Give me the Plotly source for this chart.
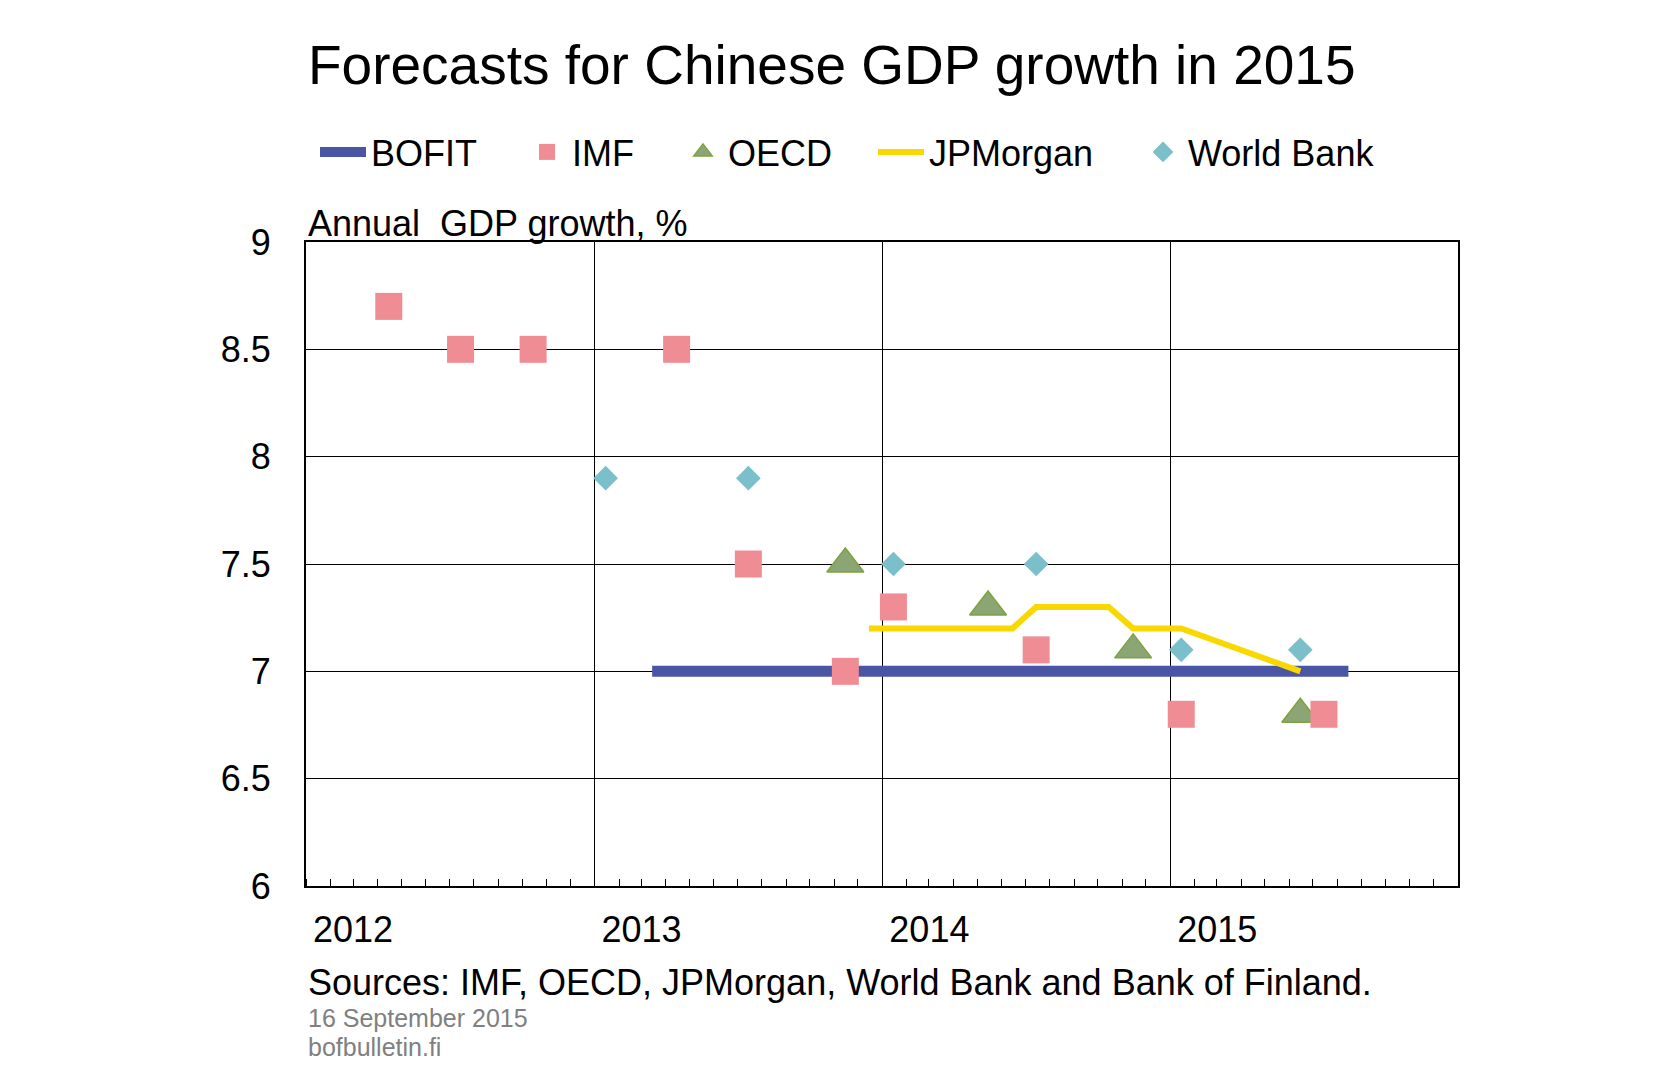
import plotly.graph_objects as go

# ---- data ----
imf_dates = ["2012-04-15", "2012-07-15", "2012-10-15", "2013-04-15", "2013-07-15",
             "2013-11-15", "2014-01-15", "2014-07-15", "2015-01-15", "2015-07-15"]
imf_values = [8.7, 8.5, 8.5, 8.5, 7.5, 7.0, 7.3, 7.1, 6.8, 6.8]

oecd_dates = ["2013-11-15", "2014-05-15", "2014-11-15", "2015-06-15"]
oecd_values = [7.5, 7.3, 7.1, 6.8]

wb_dates = ["2013-01-15", "2013-07-15", "2014-01-15", "2014-07-15", "2015-01-15", "2015-06-15"]
wb_values = [7.9, 7.9, 7.5, 7.5, 7.1, 7.1]

jpm_dates = ["2013-12-15", "2014-06-15", "2014-07-15", "2014-10-15", "2014-11-15",
             "2015-01-15", "2015-06-15"]
jpm_values = [7.2, 7.2, 7.3, 7.3, 7.2, 7.2, 7.0]

bofit_dates = ["2013-03-15", "2015-08-15"]
bofit_values = [7.0, 7.0]

year_ticks = ["2012-01-01", "2013-01-01", "2014-01-01", "2015-01-01"]
year_labels = ["2012", "2013", "2014", "2015"]

FONT = "Liberation Sans, Arial, sans-serif"

fig = go.Figure()
fig.add_trace(go.Scatter(x=bofit_dates, y=bofit_values, mode="lines", name="BOFIT",
                         line=dict(color="#4B55A5", width=11), legend="legend"))
fig.add_trace(go.Scatter(x=jpm_dates, y=jpm_values, mode="lines", name="JPMorgan",
                         line=dict(color="#F8D800", width=6), legend="legend4"))
fig.add_trace(go.Scatter(x=oecd_dates, y=oecd_values, mode="markers", name="OECD",
                         marker=dict(symbol="triangle-up", size=32, color="#8BA574",
                                     line=dict(color="#7DA33E", width=1.5)),
                         legend="legend3"))
fig.add_trace(go.Scatter(x=imf_dates, y=imf_values, mode="markers", name="IMF",
                         marker=dict(symbol="square", size=27, color="#F08C94"),
                         legend="legend2"))
fig.add_trace(go.Scatter(x=wb_dates, y=wb_values, mode="markers", name="World Bank",
                         marker=dict(symbol="diamond", size=19, color="#7ABFC9"),
                         legend="legend5"))

OFF = 8  # page body margin
W, H = 1669, 1090
# target plot area in page pixels: x 306-1458, y 242-886
pl, pr, pt, pb = 306 - OFF, 1458 - OFF, 242 - OFF, 886 - OFF
ml, mr, mt, mb = pl, W - pr, pt, H - pb
pw, ph = pr - pl, pb - pt

def px_x(x):
    return (x - OFF - ml) / pw

def px_y(y):
    return (pb - (y - OFF)) / ph

leg_common = dict(orientation="h", xanchor="left", yanchor="middle",
                  font=dict(family=FONT, size=36, color="black"),
                  bgcolor="rgba(0,0,0,0)", borderwidth=0, itemsizing="trace")
legy = px_y(152)

fig.update_layout(
    width=W, height=H, autosize=False,
    margin=dict(l=ml, r=mr, t=mt, b=mb),
    paper_bgcolor="white", plot_bgcolor="white",
    showlegend=True,
    legend=dict(x=px_x(315), y=legy, itemwidth=46, **leg_common),
    legend2=dict(x=px_x(522), y=legy, itemwidth=40, **leg_common),
    legend3=dict(x=px_x(678), y=legy, itemwidth=40, **leg_common),
    legend4=dict(x=px_x(873), y=legy, itemwidth=46, **leg_common),
    legend5=dict(x=px_x(1138), y=legy, itemwidth=40, **leg_common),
    xaxis=dict(
        type="date", range=["2012-01-01", "2016-01-01"],
        tickvals=year_ticks, ticktext=year_labels,
        ticks="", showgrid=True, gridcolor="black", gridwidth=1,
        showline=True, linecolor="black", linewidth=2, mirror=True,
        tickfont=dict(family=FONT, size=36, color="black"),
        ticklabelshift=47, ticklabelstandoff=11,
        minor=dict(ticks="inside", ticklen=7, tickcolor="black", tickwidth=1,
                   dtick="M1", tick0="2012-01-01", showgrid=False),
        zeroline=False,
    ),
    yaxis=dict(
        range=[6, 9], dtick=0.5, tick0=6,
        showgrid=True, gridcolor="black", gridwidth=1,
        showline=True, linecolor="black", linewidth=2, mirror=True,
        ticks="", tickfont=dict(family=FONT, size=36, color="black"),
        ticklabelstandoff=26, zeroline=False,
    ),
    annotations=[
        dict(text="Forecasts for Chinese GDP growth in 2015", xref="paper", yref="paper",
             x=px_x(306), y=px_y(65), xanchor="left", yanchor="middle", showarrow=False,
             font=dict(family=FONT, size=55, color="black")),
        dict(text="Annual  GDP growth, %", xref="paper", yref="paper",
             x=px_x(306), y=px_y(223), xanchor="left", yanchor="middle", showarrow=False,
             font=dict(family=FONT, size=36, color="black")),
        dict(text="Sources: IMF, OECD, JPMorgan, World Bank and Bank of Finland.",
             xref="paper", yref="paper",
             x=px_x(306), y=px_y(982), xanchor="left", yanchor="middle", showarrow=False,
             font=dict(family=FONT, size=36, color="black")),
        dict(text="16 September 2015", xref="paper", yref="paper",
             x=px_x(306), y=px_y(1018), xanchor="left", yanchor="middle", showarrow=False,
             font=dict(family=FONT, size=25, color="#808080")),
        dict(text="bofbulletin.fi", xref="paper", yref="paper",
             x=px_x(306), y=px_y(1047), xanchor="left", yanchor="middle", showarrow=False,
             font=dict(family=FONT, size=25, color="#808080")),
    ],
)

fig.write_html("out.html")
